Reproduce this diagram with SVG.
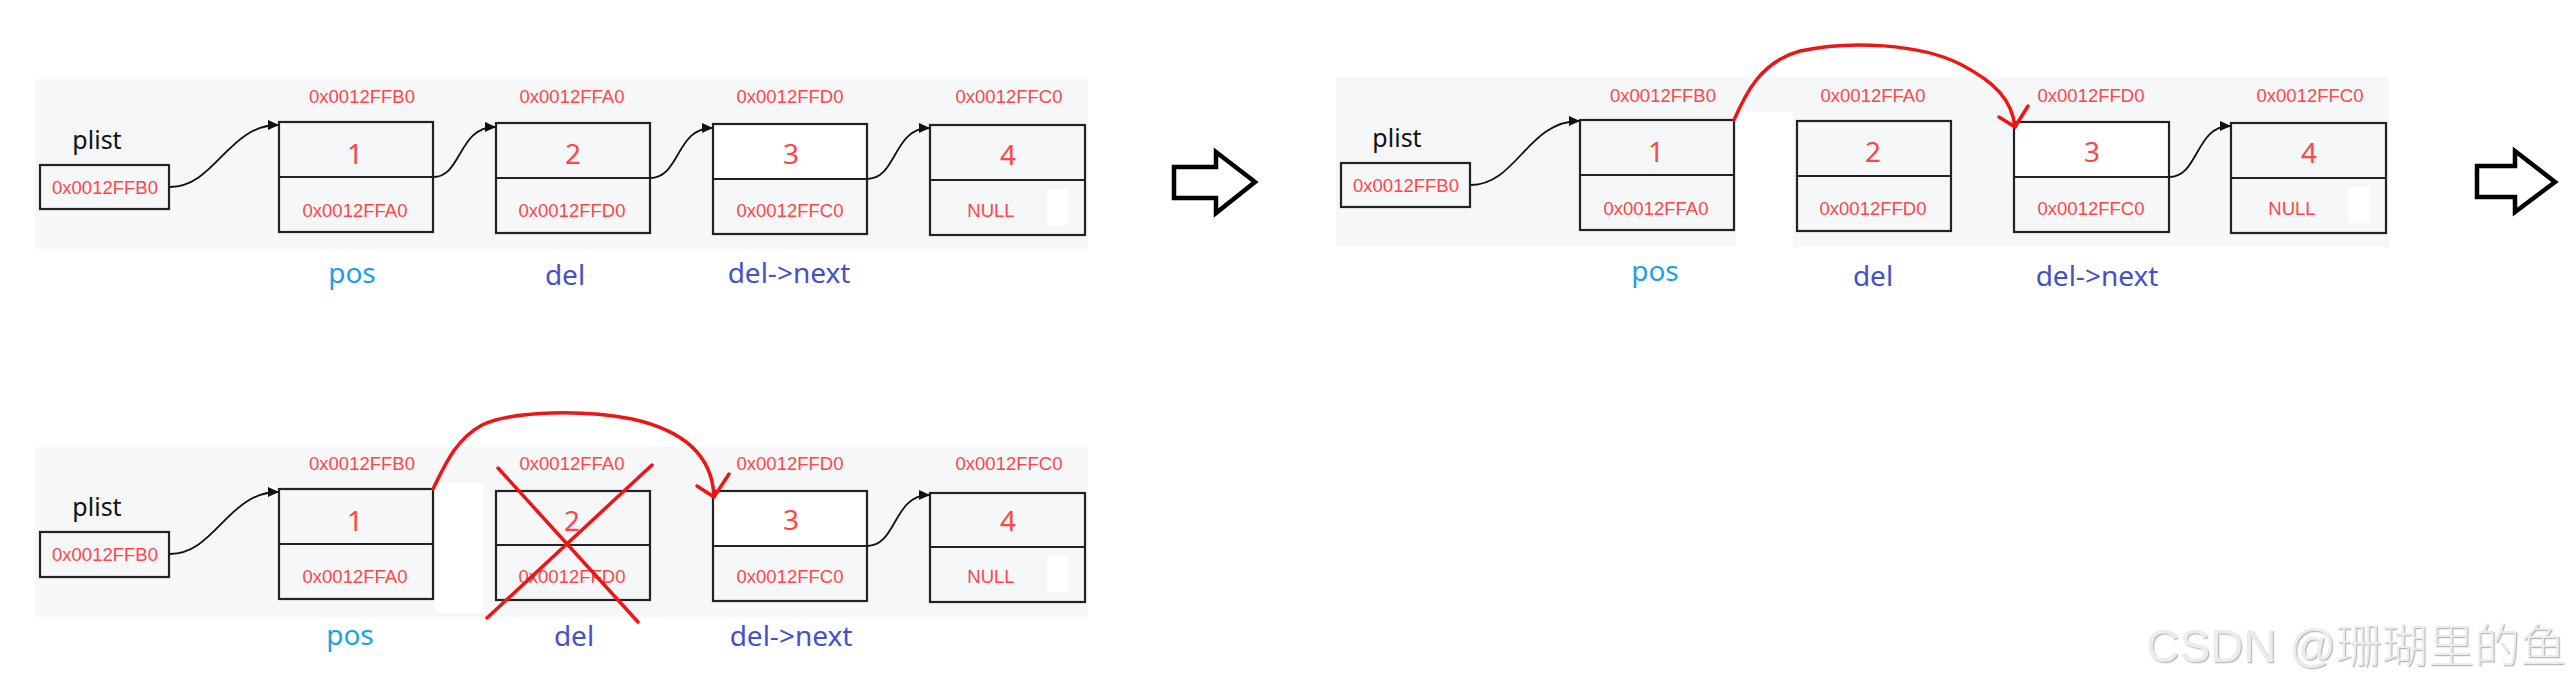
<svg xmlns="http://www.w3.org/2000/svg" width="2572" height="687" viewBox="0 0 2572 687">
<style>
.bg{fill:#f6f7f9}
.wp{fill:#ffffff}
.box{fill:none;stroke:#222;stroke-width:2.2}
.div{stroke:#222;stroke-width:2.2}
.hex{font-family:"Liberation Sans",Arial,sans-serif;font-size:18.5px;fill:#ff4646;text-anchor:middle}
.num{font-family:"Noto Sans","Liberation Sans",sans-serif;font-size:28px;fill:#ff4646;text-anchor:middle}
.plist{font-family:"Noto Sans","Liberation Sans",sans-serif;font-size:25px;fill:#111;text-anchor:middle}
.pos{font-family:"Noto Sans","Liberation Sans",sans-serif;font-size:28px;fill:#1ca0e6;text-anchor:middle}
.del{font-family:"Noto Sans","Liberation Sans",sans-serif;font-size:28px;fill:#4450cc;text-anchor:middle}
.con{fill:none;stroke:#111;stroke-width:1.8;marker-end:url(#ah)}
.red{fill:none;stroke:#ee1515;stroke-width:3.5;stroke-linecap:round;stroke-linejoin:round}
.blk{fill:#fff;stroke:#000;stroke-width:4.5;stroke-linejoin:miter}
.wm{font-family:"Liberation Sans","Noto Sans CJK SC",sans-serif;font-size:46px;font-weight:300;fill:#ececec;text-anchor:end;filter:url(#emb)}
</style>
<defs>
<marker id="ah" markerUnits="userSpaceOnUse" markerWidth="12" markerHeight="10" refX="10" refY="5" orient="auto">
<path d="M0,0 L11,5 L0,10 Z" fill="#111"/>
</marker>
<filter id="emb" x="-5%" y="-20%" width="110%" height="140%">
<feDropShadow dx="1.2" dy="1.2" stdDeviation="0.4" flood-color="#b0b0b0" flood-opacity="0.9"/>
</filter>
</defs>
<rect width="2572" height="687" fill="#ffffff"/>
<g id="panels">
<rect class="bg" x="35" y="79" width="1053" height="170"/>
<rect class="bg" x="1336" y="77" width="1053" height="170"/>
<rect class="bg" x="35" y="447" width="1053" height="170"/>
<rect class="wp" x="1736" y="112" width="57" height="135"/>
<rect class="wp" x="435" y="483" width="48" height="130"/>
<rect class="wp" x="1047" y="189" width="21" height="36"/>
<rect class="wp" x="1047" y="556" width="21" height="36"/>
<rect class="wp" x="2348" y="187" width="22" height="36"/>
<rect class="wp" x="714" y="125" width="152" height="53"/>
<rect class="wp" x="2015" y="123" width="153" height="53"/>
<rect class="wp" x="714" y="492" width="152" height="53"/>
</g>

<!-- Row 1 left -->
<g id="r1-plist">
<text class="plist" x="97" y="149">plist</text>
<rect class="box" x="40" y="165" width="129" height="44"/>
<text class="hex" x="105" y="194">0x0012FFB0</text>
</g>
<g id="r1-n1">
<text class="hex" x="362" y="103">0x0012FFB0</text>
<rect class="box" x="279" y="122" width="154" height="110"/>
<line class="div" x1="279" y1="177" x2="433" y2="177"/>
<text class="num" x="355" y="164">1</text>
<text class="hex" x="355" y="217">0x0012FFA0</text>
<text class="pos" x="352" y="283">pos</text>
</g>
<g id="r1-n2">
<text class="hex" x="572" y="103">0x0012FFA0</text>
<rect class="box" x="496" y="123" width="154" height="110"/>
<line class="div" x1="496" y1="178" x2="650" y2="178"/>
<text class="num" x="573" y="164">2</text>
<text class="hex" x="572" y="217">0x0012FFD0</text>
<text class="del" x="565" y="285">del</text>
</g>
<g id="r1-n3">
<text class="hex" x="790" y="103">0x0012FFD0</text>
<rect class="box" x="713" y="124" width="154" height="110"/>
<line class="div" x1="713" y1="179" x2="867" y2="179"/>
<text class="num" x="791" y="164">3</text>
<text class="hex" x="790" y="217">0x0012FFC0</text>
<text class="del" x="789" y="283">del-&gt;next</text>
</g>
<g id="r1-n4">
<text class="hex" x="1009" y="103">0x0012FFC0</text>
<rect class="box" x="930" y="125" width="155" height="110"/>
<line class="div" x1="930" y1="180" x2="1085" y2="180"/>
<text class="num" x="1008" y="165">4</text>
<text class="hex" x="991" y="217">NULL</text>
</g>
<g id="r1-arrow">
<path class="blk" d="M1174,167 L1216,167 L1216,152 L1255,182 L1216,213 L1216,198 L1174,198 Z"/>
</g>

<!-- Row 1 right -->
<g id="r2-plist">
<text class="plist" x="1397" y="147">plist</text>
<rect class="box" x="1341" y="163" width="129" height="44"/>
<text class="hex" x="1406" y="192">0x0012FFB0</text>
</g>
<g id="r2-n1">
<text class="hex" x="1663" y="102">0x0012FFB0</text>
<rect class="box" x="1580" y="120" width="154" height="110"/>
<line class="div" x1="1580" y1="175" x2="1734" y2="175"/>
<text class="num" x="1656" y="162">1</text>
<text class="hex" x="1656" y="215">0x0012FFA0</text>
<text class="pos" x="1655" y="281">pos</text>
</g>
<g id="r2-n2">
<text class="hex" x="1873" y="102">0x0012FFA0</text>
<rect class="box" x="1797" y="121" width="154" height="110"/>
<line class="div" x1="1797" y1="176" x2="1951" y2="176"/>
<text class="num" x="1873" y="162">2</text>
<text class="hex" x="1873" y="215">0x0012FFD0</text>
<text class="del" x="1873" y="286">del</text>
</g>
<g id="r2-n3">
<text class="hex" x="2091" y="102">0x0012FFD0</text>
<rect class="box" x="2014" y="122" width="155" height="110"/>
<line class="div" x1="2014" y1="177" x2="2169" y2="177"/>
<text class="num" x="2092" y="162">3</text>
<text class="hex" x="2091" y="215">0x0012FFC0</text>
<text class="del" x="2097" y="286">del-&gt;next</text>
</g>
<g id="r2-n4">
<text class="hex" x="2310" y="102">0x0012FFC0</text>
<rect class="box" x="2231" y="123" width="155" height="110"/>
<line class="div" x1="2231" y1="178" x2="2386" y2="178"/>
<text class="num" x="2309" y="163">4</text>
<text class="hex" x="2292" y="215">NULL</text>
</g>
<g id="r2-arrow">
<path class="blk" d="M2477,166 L2515,166 L2515,151 L2555,182 L2515,212 L2515,197 L2477,197 Z"/>
</g>

<!-- Row 2 -->
<g id="r3-plist">
<text class="plist" x="97" y="516">plist</text>
<rect class="box" x="40" y="532" width="129" height="45"/>
<text class="hex" x="105" y="561">0x0012FFB0</text>
</g>
<g id="r3-n1">
<text class="hex" x="362" y="470">0x0012FFB0</text>
<rect class="box" x="279" y="489" width="154" height="110"/>
<line class="div" x1="279" y1="544" x2="433" y2="544"/>
<text class="num" x="355" y="531">1</text>
<text class="hex" x="355" y="583">0x0012FFA0</text>
<text class="pos" x="350" y="645">pos</text>
</g>
<g id="r3-n2">
<text class="hex" x="572" y="470">0x0012FFA0</text>
<rect class="box" x="496" y="491" width="154" height="109"/>
<line class="div" x1="496" y1="545" x2="650" y2="545"/>
<text class="num" x="572" y="531">2</text>
<text class="hex" x="572" y="583">0x0012FFD0</text>
<text class="del" x="574" y="646">del</text>
</g>
<g id="r3-n3">
<text class="hex" x="790" y="470">0x0012FFD0</text>
<rect class="box" x="713" y="491" width="154" height="110"/>
<line class="div" x1="713" y1="546" x2="867" y2="546"/>
<text class="num" x="791" y="530">3</text>
<text class="hex" x="790" y="583">0x0012FFC0</text>
<text class="del" x="791" y="646">del-&gt;next</text>
</g>
<g id="r3-n4">
<text class="hex" x="1009" y="470">0x0012FFC0</text>
<rect class="box" x="930" y="493" width="155" height="109"/>
<line class="div" x1="930" y1="547" x2="1085" y2="547"/>
<text class="num" x="1008" y="531">4</text>
<text class="hex" x="991" y="583">NULL</text>
</g>

<g id="connectors">
<path class="con" d="M170,187 C215,187 228,125 278,125"/>
<path class="con" d="M433,177 C462,177 458,127 495,127"/>
<path class="con" d="M650,178 C680,178 676,128 712,128"/>
<path class="con" d="M867,179 C897,179 893,128 929,128"/>
<path class="con" d="M1471,185 C1516,185 1528,121 1579,121"/>
<path class="con" d="M2169,177 C2199,177 2195,126 2230,126"/>
<path class="con" d="M170,554 C215,554 228,492 278,492"/>
<path class="con" d="M867,546 C897,546 893,495 929,495"/>
<path class="red" d="M1734,120 C1745,95 1760,62 1800,51 C1850,40 1920,44 1960,64 C1995,82 2012,100 2015,127"/>
<path class="red" d="M1999,117 L2015,127 L2028,106"/>
<path class="red" d="M433,489 C445,465 455,440 482,425 C515,410 585,410 632,419 C682,430 712,455 714,496"/>
<path class="red" d="M697,486 L714,497 L729,474"/>
<line class="red" x1="498" y1="468" x2="638" y2="622"/>
<line class="red" x1="652" y1="465" x2="487" y2="618"/>
</g>

<text class="wm" x="2566" y="662">CSDN @珊瑚里的鱼</text>
</svg>
